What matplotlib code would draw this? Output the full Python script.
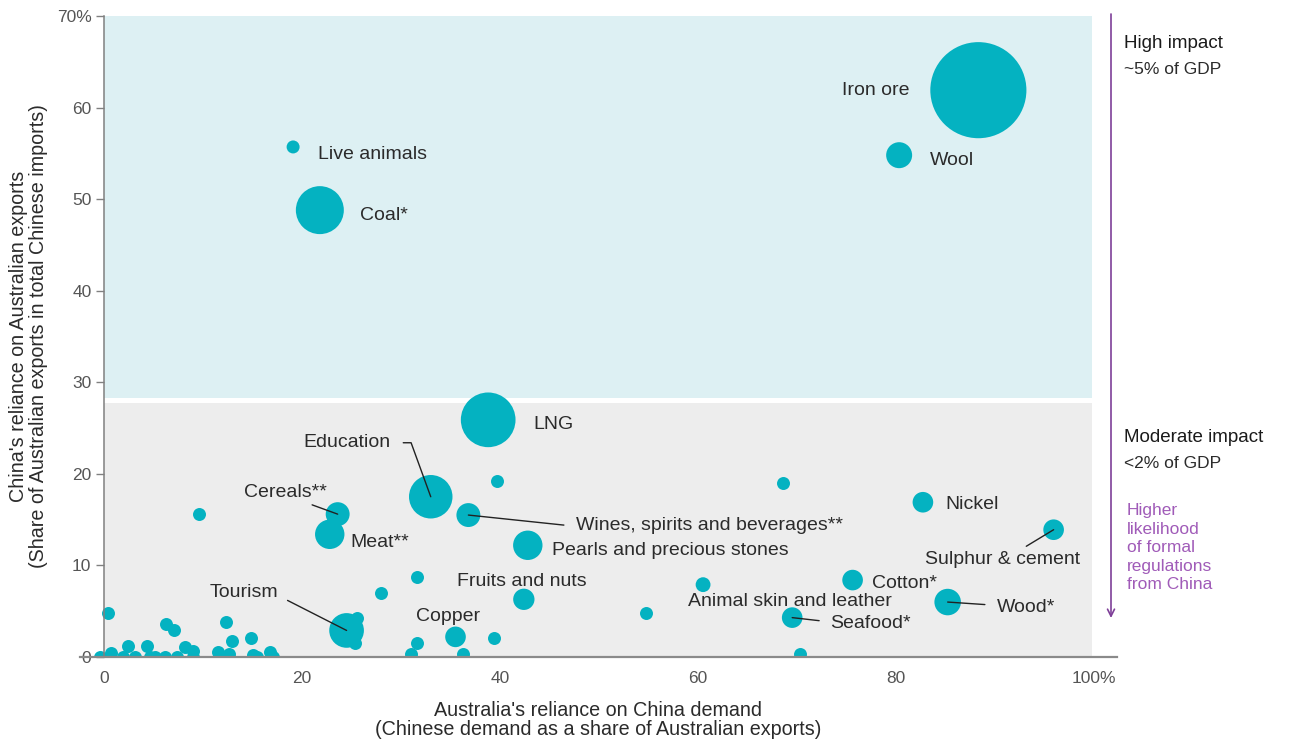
import matplotlib.pyplot as plt
import numpy as np

# ---- labelled products: demand share (x), import share (y), export value (bubble) ----
products = [
    "Iron ore", "Wool", "Live animals", "Coal*", "LNG", "Education",
    "Wines, spirits and beverages**", "Cereals**", "Meat**",
    "Pearls and precious stones", "Fruits and nuts", "Copper", "Tourism",
    "Nickel", "Sulphur & cement", "Cotton*", "Wood*", "Seafood*",
    "Animal skin and leather",
]
aus_reliance = [88.3, 80.3, 19.1, 21.8, 38.8, 33.0, 36.8, 23.6, 22.8,
                42.8, 42.4, 35.5, 24.5, 82.7, 95.9, 75.6, 85.2, 69.5, 60.5]
china_reliance = [61.9, 54.8, 55.7, 48.8, 25.9, 17.5, 15.5, 15.6, 13.4,
                  12.2, 6.3, 2.2, 2.9, 16.9, 13.9, 8.4, 6.0, 4.3, 7.9]
export_value = [63.0, 4.6, 1.15, 15.7, 20.4, 12.9, 3.9, 3.9, 5.9,
                5.9, 3.1, 2.9, 8.2, 2.9, 2.9, 2.9, 4.8, 2.9, 1.5]

# ---- unlabelled products ----
other_x = [0.4, 6.3, 7.1, 2.4, 4.3, 8.2, 9.0, 0.7,
           -0.4, 0.6, 1.9, 3.1, 4.6, 5.2, 6.2, 7.4, 9.0,
           11.5, 12.3, 12.9, 14.8, 12.6, 15.1, 15.5, 16.8, 17.1,
           9.6, 28.0, 31.6, 31.6, 31.0, 36.3, 39.4, 39.7,
           25.6, 25.3, 54.7, 68.6, 70.3]
other_y = [4.8, 3.6, 2.9, 1.2, 1.2, 1.1, 0.7, 0.4,
           0.0, 0.0, 0.0, 0.0, 0.0, 0.0, 0.0, 0.0, 0.0,
           0.6, 3.8, 1.8, 2.1, 0.3, 0.2, 0.0, 0.6, 0.0,
           15.6, 7.0, 8.7, 1.5, 0.3, 0.3, 2.1, 19.2,
           4.3, 1.5, 4.8, 19.0, 0.3]
other_value = 1.15

x_ticks = [0, 20, 40, 60, 80, 100]
x_ticklabels = ["0", "20", "40", "60", "80", "100%"]
y_ticks = [0, 10, 20, 30, 40, 50, 60, 70]
y_ticklabels = ["0", "10", "20", "30", "40", "50", "60", "70%"]

BUBBLE = "#04B2C1"
TEXT = "#2b2b2b"
PURPLE = "#7E3F98"
PURPLE_TEXT = "#A05BB8"
SIZE_PER_UNIT = 76  # pt^2 per unit of export value
PX = 0.72           # points per pixel at dpi 100

plt.rcParams["font.family"] = ["Liberation Sans", "DejaVu Sans"]

fig = plt.figure(figsize=(12.9, 7.4), dpi=100)
ax = fig.add_axes([80 / 1290, 83 / 740, 1037 / 1290, 641 / 740])
ax.set_xlim(-2.42, 102.3)
ax.set_ylim(0, 70)

# impact bands
ax.fill_between([0, 99.8], 28.3, 70, color="#DDF0F3", lw=0, zorder=0)
ax.fill_between([0, 99.8], 0, 27.7, color="#EDEDED", lw=0, zorder=0)

ax.scatter(other_x, other_y, s=other_value * SIZE_PER_UNIT, color=BUBBLE,
           linewidths=0, zorder=2)
ax.scatter(aus_reliance, china_reliance,
           s=np.array(export_value) * SIZE_PER_UNIT, color=BUBBLE,
           linewidths=0, zorder=2)

# label placement: offset in px (dx, dy up), alignment, optional leader line
label_style = {
    "Iron ore": (-69, 1.5, "right", None),
    "Wool": (31, -3, "left", None),
    "Live animals": (25, -6, "left", None),
    "Coal*": (40, -3, "left", None),
    "LNG": (45, -3, "left", None),
    "Education": (-40, 56, "right",
                  dict(relpos=(1, 0.5), shrinkA=7,
                       connectionstyle="angle,angleA=0,angleB=110,rad=0")),
    "Wines, spirits and beverages**": (108, -8, "left",
                  dict(relpos=(0, 0.5), shrinkA=7,
                       connectionstyle="angle,angleA=180,angleB=-6,rad=0")),
    "Cereals**": (-52, 24, "center",
                  dict(relpos=(0.68, 0), shrinkA=3)),
    "Meat**": (21, -6, "left", None),
    "Pearls and precious stones": (24, -3, "left", None),
    "Fruits and nuts": (-67, 20, "left", None),
    "Copper": (-40, 22, "left", None),
    "Tourism": (-68, 40, "right",
                dict(relpos=(1, 0.3), shrinkA=5)),
    "Nickel": (22, 0, "left", None),
    "Sulphur & cement": (-51, -28, "center",
                         dict(relpos=(0.6, 1), shrinkA=3)),
    "Cotton*": (19, -1, "left", None),
    "Wood*": (49, -3, "left", dict(relpos=(0, 0.6), shrinkA=6.5)),
    "Seafood*": (38, -4, "left", dict(relpos=(0, 0.6), shrinkA=6)),
    "Animal skin and leather": (-15, -15, "left", None),
}
TEXT_DROP = 2  # px, nudges every label down a touch

for name, x, y in zip(products, aus_reliance, china_reliance):
    dx, dy, ha, leader = label_style[name]
    arrow = None
    if leader is not None:
        arrow = dict(arrowstyle="-", color="#222222", lw=1.0, shrinkB=0)
        arrow.update(leader)
    ax.annotate(name, (x, y), xytext=(dx * PX, (dy - TEXT_DROP) * PX),
                textcoords="offset points", ha=ha, va="center",
                fontsize=14, color=TEXT, arrowprops=arrow, zorder=4)

# axes styling
for side in ("top", "right"):
    ax.spines[side].set_visible(False)
ax.spines["left"].set_position(("data", 0))
ax.spines["left"].set_color("#808080")
ax.spines["left"].set_linewidth(1.1)
ax.spines["bottom"].set_color("#8a8a8a")
ax.spines["bottom"].set_linewidth(1.6)
ax.spines["bottom"].set_zorder(3)

ax.set_xticks(x_ticks, x_ticklabels, fontsize=12.5, color="#555555")
ax.set_yticks(y_ticks, y_ticklabels, fontsize=12.5, color="#555555")
ax.tick_params(axis="x", length=0, pad=10)
ax.tick_params(axis="y", length=6, width=1, color="#808080", pad=3)

ax.set_xlabel("Australia's reliance on China demand\n"
              "(Chinese demand as a share of Australian exports)",
              fontsize=14.2, color=TEXT, linespacing=1.05)
ax.xaxis.set_label_coords(0.5, -0.068)
ax.xaxis.label.set_va("top")
ax.set_ylabel("China's reliance on Australian exports\n"
              "(Share of Australian exports in total Chinese imports)",
              fontsize=14.2, color=TEXT, linespacing=1.05)
ax.yaxis.set_label_coords(-0.031, 0.5)

# impact scale on the right
ax.annotate("", xy=(1111 / 1290, 1 - 618 / 740), xytext=(1111 / 1290, 1 - 14 / 740),
            xycoords="figure fraction", textcoords="figure fraction",
            arrowprops=dict(arrowstyle="->,head_length=0.5,head_width=0.25",
                            color=PURPLE, lw=1.2, shrinkA=0, shrinkB=0))
fig.text(1124 / 1290, 1 - 43 / 740, "High impact", fontsize=13.5, color="#1a1a1a",
         va="center")
fig.text(1124 / 1290, 1 - 69 / 740, "~5% of GDP", fontsize=12.5, color=TEXT, va="center")
fig.text(1124 / 1290, 1 - 437 / 740, "Moderate impact", fontsize=13.5, color="#1a1a1a",
         va="center")
fig.text(1124 / 1290, 1 - 463 / 740, "<2% of GDP", fontsize=12.5, color=TEXT, va="center")
fig.text(1127 / 1290, 1 - 503 / 740,
         "Higher\nlikelihood\nof formal\nregulations\nfrom China",
         fontsize=12.5, color=PURPLE_TEXT, va="top", linespacing=1.3)

fig.savefig("out.png", dpi=100)
